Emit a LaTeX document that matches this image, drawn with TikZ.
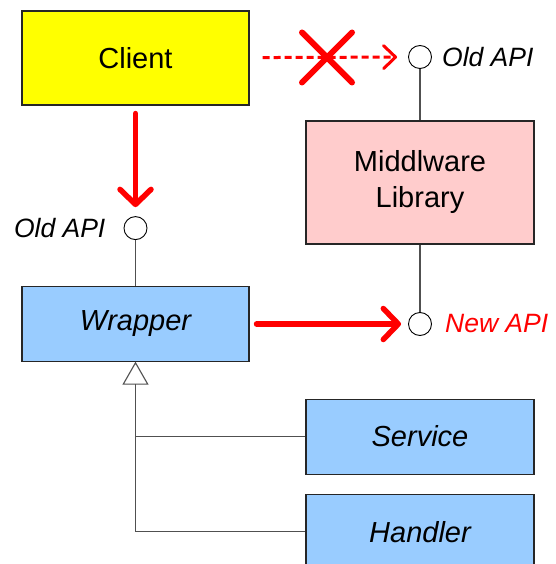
\documentclass[tikz,border=0pt]{standalone}
\usepackage{fontspec}
\setmainfont{Liberation Sans}
\usetikzlibrary{positioning,arrows.meta,shapes.misc}

\definecolor{clientyellow}{HTML}{FFFF00}
\definecolor{libpink}{HTML}{FFCCCC}
\definecolor{classblue}{HTML}{99CCFF}
\definecolor{wire}{HTML}{505050}

\begin{document}
\begin{tikzpicture}[x=1pt,y=-1pt]
	\tikzset{
		box/.style = {draw=black!85, line width=1.1pt, inner sep=0pt,
			minimum width=227pt, minimum height=75pt, align=center,
			font=\fontsize{29}{36}\selectfont},
		iface/.style = {circle, draw=black, fill=white, line width=0.9pt,
			inner sep=0pt, minimum size=23pt},
		ifname/.style = {inner sep=0pt, font=\fontsize{26.5}{30}\selectfont\itshape},
		wire/.style = {draw=wire, line width=1.1pt},
		calls/.style = {draw=red, line width=5.5pt, line cap=round,
			-{Straight Barb[length=15pt,width=31pt,round]}},
		nocall/.style = {draw=red, line width=3pt, dash pattern=on 7pt off 4pt,
			-{Straight Barb[length=12pt,width=23pt,round]}},
		xmark/.style = {cross out, draw=red, line width=6pt, line cap=round,
			minimum size=44pt, inner sep=0pt},
		inherits/.style = {wire, -{Triangle[open,length=23pt,width=26pt]}}
	}
	\useasboundingbox (0,0) rectangle (555,564);

	% classes
	\node[box, fill=clientyellow, minimum height=94pt] (client) at (135.5,58) {Client};
	\node[box, fill=libpink, minimum width=228pt, minimum height=123pt] (mw) at (420,182.5) {Middlware\\Library};
	\node[box, fill=classblue, below=180pt of client] (wrap) {\itshape Wrapper};
	\node[box, fill=classblue, minimum width=228pt, below=154pt of mw] (serv) {\itshape Service};
	\node[box, fill=classblue, minimum width=228pt, below=19pt of serv] (hand) {\itshape Handler};

	% interfaces
	\node[iface, above=51.5pt of mw] (api1) {};
	\node[iface, above=45.5pt of wrap] (api2) {};
	\node[iface, below=67.5pt of mw] (api3) {};
	\node[ifname, right=10pt of api1] (l1) {Old API};
	\node[ifname, left=18pt of api2] (l2) {Old API};
	\node[ifname, text=red, right=13pt of api3] (l3) {New API};

	\draw[wire] (api1) -- (mw);
	\draw[wire] (mw) -- (api3);
	\draw[wire] (api2) -- (wrap);

	% calls
	\draw[nocall, shorten <=13pt, shorten >=11pt] (client) -- (api1);
	\node[xmark] (x1) at (327,57.5) {};
	\draw[calls, shorten <=8pt, shorten >=9pt] (client) -- (api2);
	\draw[calls, shorten <=7pt, shorten >=7pt] (wrap.east |- api3) -- (api3);

	% subclasses
	\draw[wire] (serv.west) -- (serv.west -| wrap.south);
	\draw[inherits] (hand.west) -| (wrap.south);
\end{tikzpicture}
\end{document}
